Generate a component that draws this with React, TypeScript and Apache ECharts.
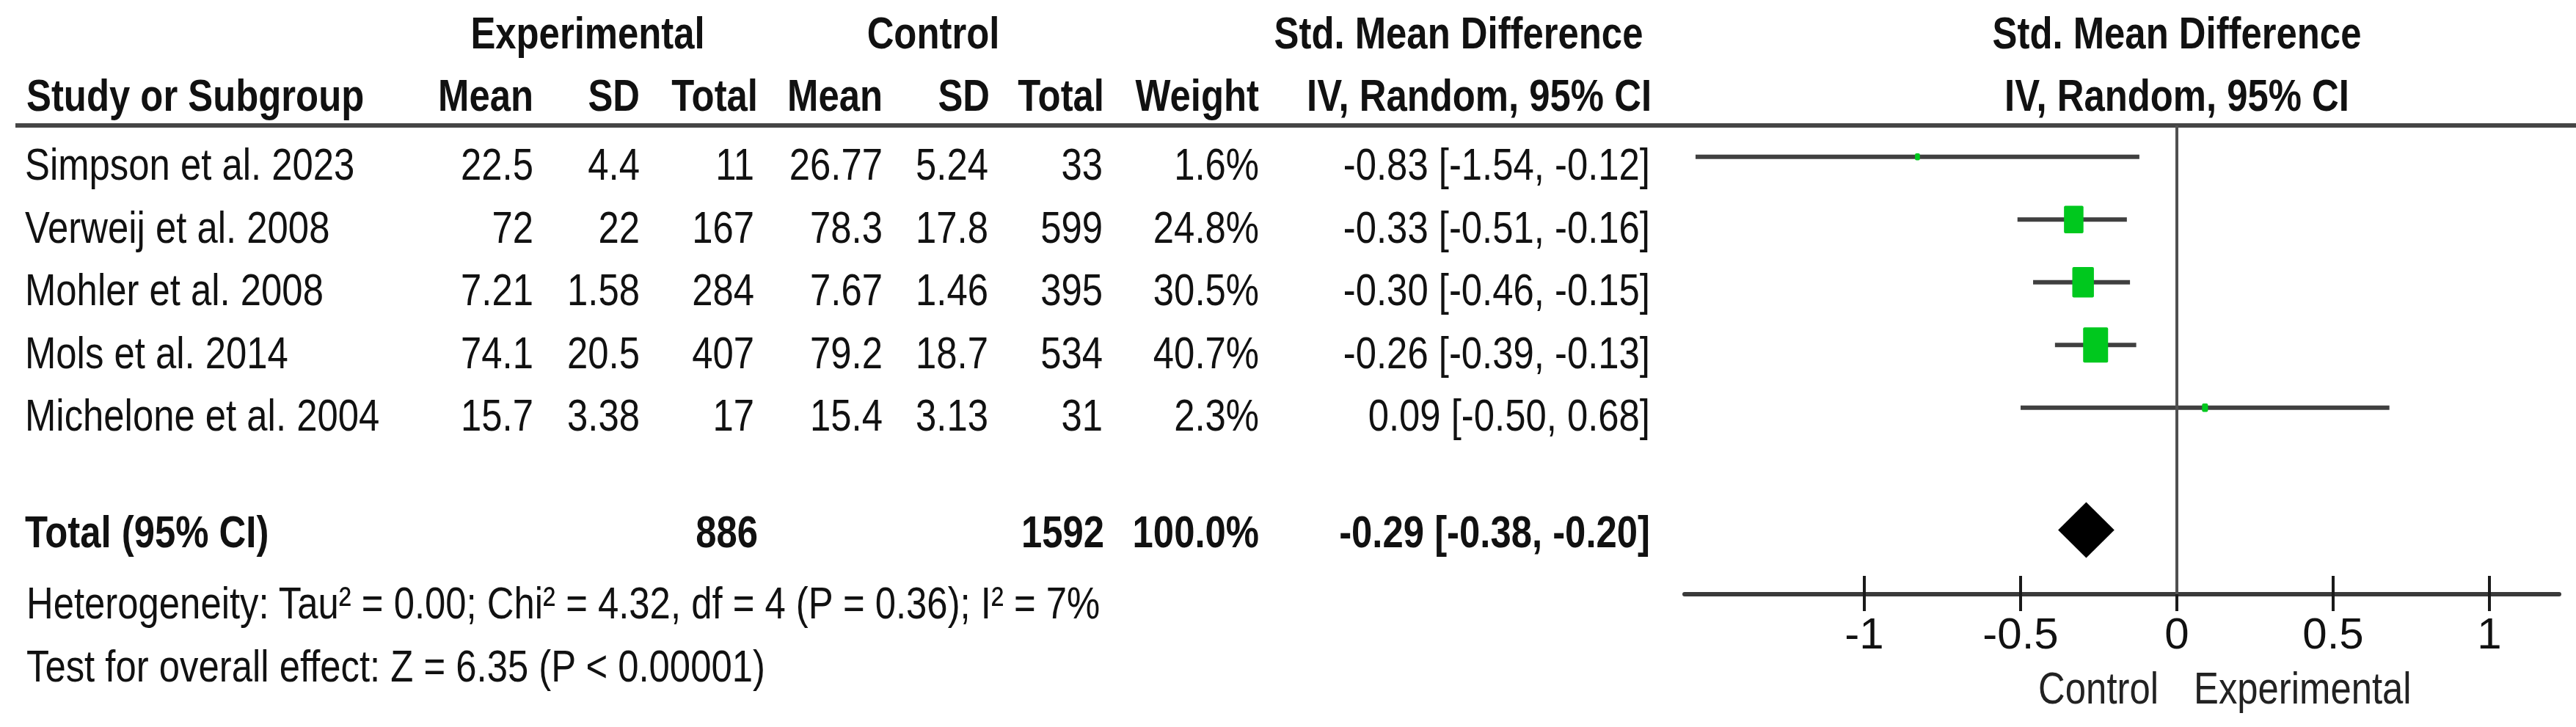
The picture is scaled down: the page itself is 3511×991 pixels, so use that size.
import React, { useEffect, useRef } from "react";
import * as echarts from "echarts";

// ---------- data ----------
const studies = [
  "Simpson et al. 2023",
  "Verweij et al. 2008",
  "Mohler et al. 2008",
  "Mols et al. 2014",
  "Michelone et al. 2004",
];
const expMean = ["22.5", "72", "7.21", "74.1", "15.7"];
const expSD = ["4.4", "22", "1.58", "20.5", "3.38"];
const expTotal = [11, 167, 284, 407, 17];
const ctlMean = ["26.77", "78.3", "7.67", "79.2", "15.4"];
const ctlSD = ["5.24", "17.8", "1.46", "18.7", "3.13"];
const ctlTotal = [33, 599, 395, 534, 31];
const weights = [1.6, 24.8, 30.5, 40.7, 2.3];
const smd = [-0.83, -0.33, -0.3, -0.26, 0.09];
const ciLow = [-1.54, -0.51, -0.46, -0.39, -0.5];
const ciHigh = [-0.12, -0.16, -0.15, -0.13, 0.68];
const totalExp = 886;
const totalCtl = 1592;
const totalWeight = 100.0;
const pooled = [-0.29, -0.38, -0.2]; // estimate, low, high
const xTicks = [-1, -0.5, 0, 0.5, 1];
const heterogeneityText = "Heterogeneity: Tau\u00b2 = 0.00; Chi\u00b2 = 4.32, df = 4 (P = 0.36); I\u00b2 = 7%";
const overallText = "Test for overall effect: Z = 6.35 (P < 0.00001)";

// ---------- layout ----------
const W = 3511;
const H = 991;
const FONT = "'Liberation Sans', Arial, sans-serif";
const FS = 62;
const NARROW = 0.82;
const TXT = "#111111";
const X_ZERO = 2967;
const UNIT = 426;
const AX_L = 2296;
const AX_R = 3488;
const GRID_TOP = 171;
const AXIS_Y = 810;
const ROW_H = 85.5;
const TEXT_ROW0 = 224;
const TOTAL_TEXT_Y = 725;

const fmt2 = (v: number) => v.toFixed(2);
const ciText = (e: number, l: number, h: number) => `${fmt2(e)} [${fmt2(l)}, ${fmt2(h)}]`;

function txt(text: string, x: number, y: number, align: string, bold = false, color = TXT) {
  return {
    type: "text",
    x,
    y,
    scaleX: NARROW,
    scaleY: 1,
    silent: true,
    style: {
      text,
      x: 0,
      y: 0,
      fill: color,
      fontSize: FS,
      fontFamily: FONT,
      fontWeight: bold ? "bold" : "normal",
      align,
      verticalAlign: "middle",
      textAlign: align,
      textVerticalAlign: "middle",
    },
  };
}

export default function App() {
  const ref = useRef<HTMLDivElement>(null);

  useEffect(() => {
    if (!ref.current) return;
    const chart = echarts.init(ref.current, undefined, { renderer: "svg" });

    const xMin = (AX_L - X_ZERO) / UNIT;
    const xMax = (AX_R - X_ZERO) / UNIT;
    const yMax = (AXIS_Y - GRID_TOP) / ROW_H;
    const totalRowPos = studies.length + 1.45;

    const studyData = studies.map((_, i) => [ciLow[i], ciHigh[i], smd[i], i + 0.5, weights[i]]);

    const graphics: any[] = [];
    // header row 1
    graphics.push(txt("Experimental", 801, 45, "center", true));
    graphics.push(txt("Control", 1272, 45, "center", true));
    graphics.push(txt("Std. Mean Difference", 1988, 45, "center", true));
    graphics.push(txt("Std. Mean Difference", X_ZERO, 45, "center", true));
    // header row 2
    const hy = 130;
    graphics.push(txt("Study or Subgroup", 36, hy, "left", true));
    graphics.push(txt("Mean", 727, hy, "right", true));
    graphics.push(txt("SD", 872, hy, "right", true));
    graphics.push(txt("Total", 1033, hy, "right", true));
    graphics.push(txt("Mean", 1203, hy, "right", true));
    graphics.push(txt("SD", 1349, hy, "right", true));
    graphics.push(txt("Total", 1505, hy, "right", true));
    graphics.push(txt("Weight", 1716, hy, "right", true));
    graphics.push(txt("IV, Random, 95% CI", 2251, hy, "right", true));
    graphics.push(txt("IV, Random, 95% CI", X_ZERO, hy, "center", true));
    // header underline
    graphics.push({
      type: "line",
      silent: true,
      shape: { x1: 21, y1: GRID_TOP, x2: W, y2: GRID_TOP },
      style: { stroke: "#454545", lineWidth: 6 },
    });
    // study rows
    studies.forEach((name, i) => {
      const y = TEXT_ROW0 + i * ROW_H;
      graphics.push(txt(name, 34, y, "left"));
      graphics.push(txt(expMean[i], 727, y, "right"));
      graphics.push(txt(expSD[i], 872, y, "right"));
      graphics.push(txt(String(expTotal[i]), 1028, y, "right"));
      graphics.push(txt(ctlMean[i], 1203, y, "right"));
      graphics.push(txt(ctlSD[i], 1347, y, "right"));
      graphics.push(txt(String(ctlTotal[i]), 1503, y, "right"));
      graphics.push(txt(weights[i].toFixed(1) + "%", 1716, y, "right"));
      graphics.push(txt(ciText(smd[i], ciLow[i], ciHigh[i]), 2249, y, "right"));
    });
    // total row
    graphics.push(txt("Total (95% CI)", 34, TOTAL_TEXT_Y, "left", true));
    graphics.push(txt(String(totalExp), 1033, TOTAL_TEXT_Y, "right", true));
    graphics.push(txt(String(totalCtl), 1505, TOTAL_TEXT_Y, "right", true));
    graphics.push(txt(totalWeight.toFixed(1) + "%", 1716, TOTAL_TEXT_Y, "right", true));
    graphics.push(txt(ciText(pooled[0], pooled[1], pooled[2]), 2249, TOTAL_TEXT_Y, "right", true));
    // footnotes
    graphics.push(txt(heterogeneityText, 36, 822, "left"));
    graphics.push(txt(overallText, 36, 908, "left"));
    // favours labels
    graphics.push(txt("Control", 2942, 938, "right", false, "#222"));
    graphics.push(txt("Experimental", 2990, 938, "left", false, "#222"));

    const option: any = {
      animation: false,
      backgroundColor: "#ffffff",
      grid: {
        left: AX_L,
        right: W - AX_R,
        top: GRID_TOP,
        bottom: H - AXIS_Y,
        containLabel: false,
      },
      xAxis: [
        {
          type: "value",
          min: xMin,
          max: xMax,
          position: "bottom",
          axisLine: { show: true, onZero: false, lineStyle: { color: "#3a3a3a", width: 6 } },
          axisTick: {
            show: true,
            customValues: xTicks,
            length: 23,
            lineStyle: { color: "#1a1a1a", width: 4 },
          },
          axisLabel: {
            show: true,
            customValues: xTicks,
            margin: 53,
            verticalAlign: "middle",
            fontSize: 60,
            fontFamily: FONT,
            color: TXT,
            formatter: (v: number) => String(v),
          },
          splitLine: { show: false },
        },
        {
          type: "value",
          min: xMin,
          max: xMax,
          position: "bottom",
          offset: 0,
          axisLine: { show: false, onZero: false },
          axisTick: {
            show: true,
            inside: true,
            customValues: xTicks,
            length: 25,
            lineStyle: { color: "#1a1a1a", width: 4 },
          },
          axisLabel: { show: false },
          splitLine: { show: false },
        },
      ],
      yAxis: {
        type: "value",
        inverse: true,
        min: 0,
        max: yMax,
        show: false,
        splitLine: { show: false },
      },
      series: [
        {
          type: "custom",
          xAxisIndex: 0,
          data: studyData,
          renderItem: (params: any, api: any) => {
            const y = api.value(3);
            const lo = api.coord([api.value(0), y]);
            const hi = api.coord([api.value(1), y]);
            const c = api.coord([api.value(2), y]);
            const w = api.value(4);
            const sw = 5.33 * Math.sqrt(w);
            const sh = sw * 1.41;
            return {
              type: "group",
              children: [
                {
                  type: "line",
                  shape: { x1: lo[0], y1: lo[1], x2: hi[0], y2: hi[1] },
                  style: { stroke: "#404040", lineWidth: 6 },
                },
                {
                  type: "rect",
                  shape: { x: c[0] - sw / 2, y: c[1] - sh / 2, width: sw, height: sh, r: 2 },
                  style: { fill: "#00c81e" },
                },
              ],
            };
          },
          markLine: {
            silent: true,
            symbol: "none",
            label: { show: false },
            lineStyle: { color: "#505050", width: 4, type: "solid" },
            data: [{ xAxis: 0 }],
          },
          z: 3,
        },
        {
          type: "custom",
          xAxisIndex: 0,
          data: [[pooled[1], pooled[2], pooled[0], totalRowPos]],
          renderItem: (params: any, api: any) => {
            const y = api.value(3);
            const lo = api.coord([api.value(0), y]);
            const hi = api.coord([api.value(1), y]);
            const c = api.coord([api.value(2), y]);
            const hh = 38;
            return {
              type: "polygon",
              shape: {
                points: [
                  [lo[0], lo[1]],
                  [c[0], c[1] - hh],
                  [hi[0], hi[1]],
                  [c[0], c[1] + hh],
                ],
              },
              style: { fill: "#000000" },
            };
          },
          z: 4,
        },
      ],
      graphic: graphics,
    };

    chart.setOption(option);
    return () => chart.dispose();
  }, []);

  return (
    <div
      ref={ref}
      style={{ position: "fixed", left: 0, top: 0, width: W, height: H, background: "#fff" }}
    />
  );
}
